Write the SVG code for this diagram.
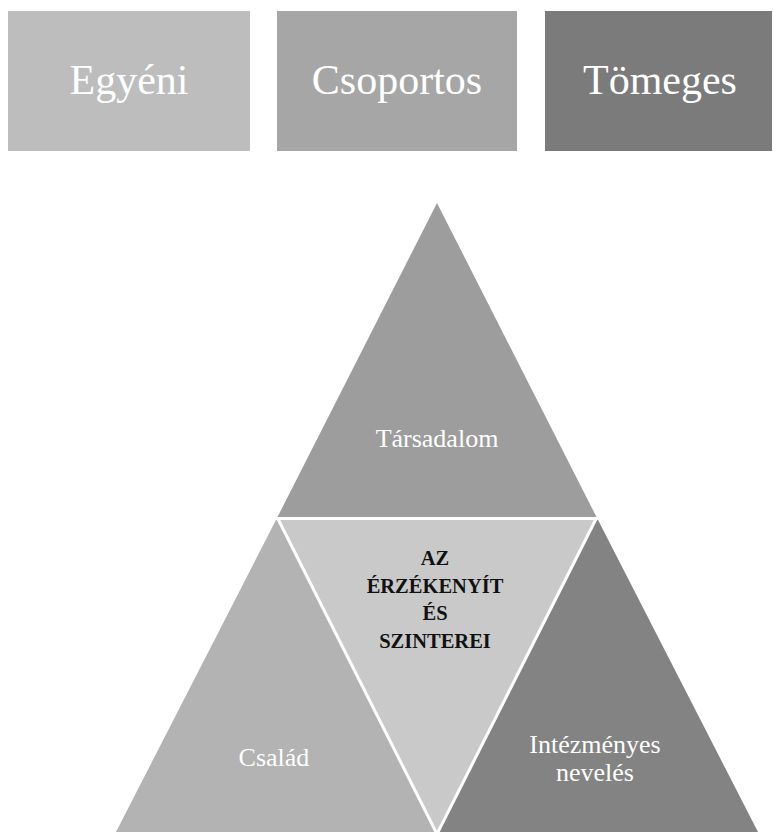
<svg xmlns="http://www.w3.org/2000/svg" width="773" height="832" viewBox="0 0 773 832">
<style>
.box-label{font-family:"Liberation Serif","Times New Roman",serif;font-size:42px;fill:#ffffff;text-anchor:middle}
.tri-label{font-family:"Liberation Serif","Times New Roman",serif;font-size:26px;fill:#ffffff;text-anchor:middle}
.center-label{font-family:"Liberation Serif","Times New Roman",serif;font-size:20.5px;font-weight:bold;fill:#111111;text-anchor:middle}
.sep{stroke:#ffffff;stroke-width:3;fill:none}
</style>
<rect width="773" height="832" fill="#ffffff"/>
<g id="egyeni">
<rect x="8" y="11" width="242" height="140" fill="#bdbdbd"/>
<text class="box-label" x="129" y="94">Egyéni</text>
</g>
<g id="csoportos">
<rect x="277" y="11" width="240" height="140" fill="#a6a6a6"/>
<text class="box-label" x="397" y="94">Csoportos</text>
</g>
<g id="tomeges">
<rect x="545" y="11" width="227" height="140" fill="#7b7b7b"/>
<text class="box-label" x="660" y="94">Tömeges</text>
</g>
<g id="tarsadalom">
<polygon points="437,203 277,518 597,518" fill="#9d9d9d"/>
<text class="tri-label" x="437" y="447">Társadalom</text>
</g>
<g id="csalad">
<polygon points="277,518 116,832 437,832" fill="#b3b3b3"/>
<text class="tri-label" x="274" y="766">Család</text>
</g>
<g id="center">
<polygon points="277,518 597,518 437,832" fill="#c9c9c9"/>
<text class="center-label" x="435" y="565">AZ</text>
<text class="center-label" x="435" y="593">ÉRZÉKENYÍT</text>
<text class="center-label" x="435" y="620">ÉS</text>
<text class="center-label" x="435" y="648">SZINTEREI</text>
</g>
<g id="intezmenyes">
<polygon points="597,518 437,832 758,832" fill="#838383"/>
<text class="tri-label" x="595" y="753">Intézményes</text>
<text class="tri-label" x="595" y="781">nevelés</text>
</g>
<g id="connectors">
<line class="sep" x1="270" y1="518.5" x2="604" y2="518.5"/>
<line class="sep" x1="278" y1="519" x2="437" y2="834"/>
<line class="sep" x1="596" y1="519" x2="437" y2="834"/>
</g>
</svg>
